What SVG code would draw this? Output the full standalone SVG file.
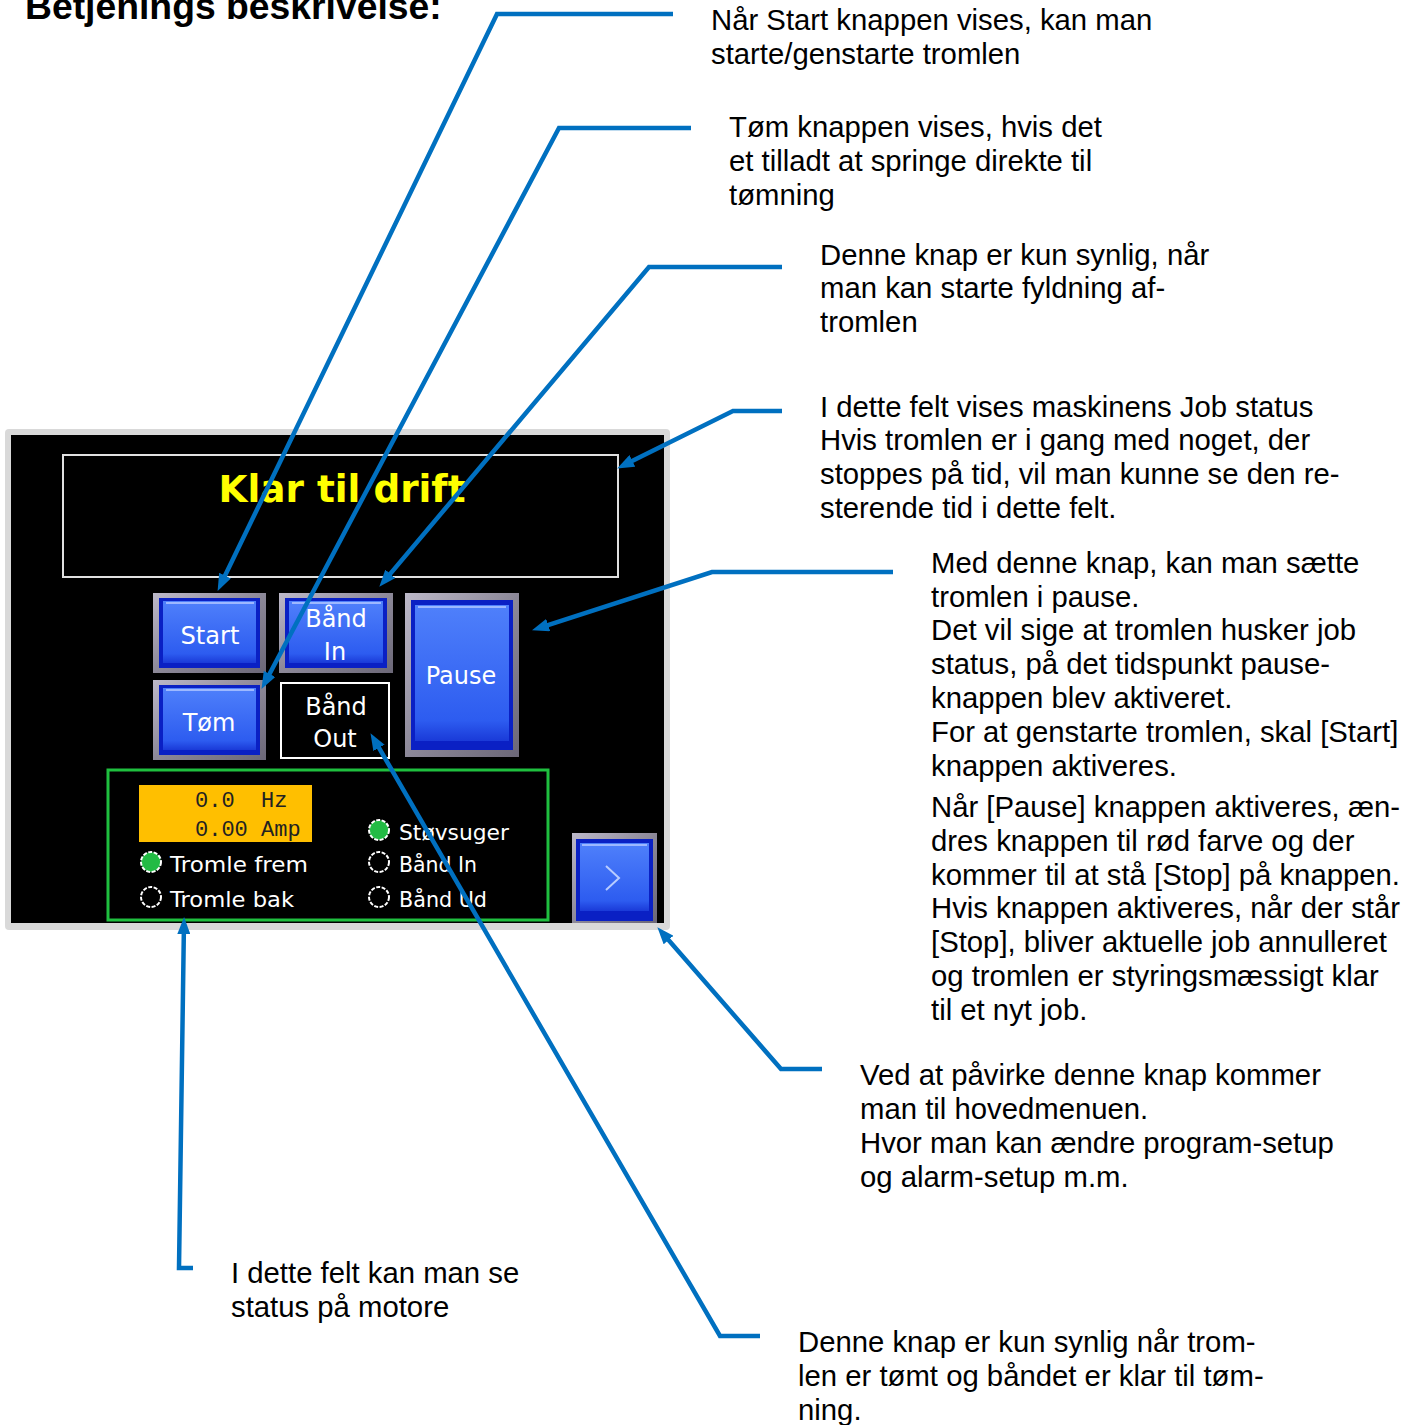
<svg xmlns="http://www.w3.org/2000/svg" width="1418" height="1425" viewBox="0 0 1418 1425">
<style>
.ann{font-family:"Liberation Sans",Arial,sans-serif;font-size:29.3px;fill:#000}
.title{font-family:"Liberation Sans",Arial,sans-serif;font-size:37.3px;font-weight:bold;fill:#000}
.lbl{font-family:"DejaVu Sans",sans-serif;fill:#fff}
.btnlbl{font-family:"DejaVu Sans",sans-serif;font-size:24px;fill:#fff}
.mono{font-family:"Liberation Mono","Courier New",monospace;font-size:22px;fill:#222}
.conn{stroke:#0070c0;stroke-width:4.5;fill:none;stroke-linejoin:miter;marker-end:url(#ah)}
.frame{fill:url(#frameG)}
.rim{fill:#0a20c4}
.face{fill:url(#faceG)}
.hl{stroke:#9db8ff;stroke-width:2}
.radio{stroke:#fff;stroke-width:2;stroke-dasharray:4 1.5}
</style>
<defs>
<marker id="ah" markerUnits="userSpaceOnUse" markerWidth="17" markerHeight="13" refX="6" refY="6.5" orient="auto">
<path d="M0,0 L17,6.5 L0,13 z" fill="#0070c0"/>
</marker>
<linearGradient id="frameG" x1="0" y1="0" x2="1" y2="1">
<stop offset="0" stop-color="#bdb9c9"/>
<stop offset="0.5" stop-color="#8c8898"/>
<stop offset="1" stop-color="#6c6878"/>
</linearGradient>
<linearGradient id="faceG" x1="0" y1="0" x2="0" y2="1">
<stop offset="0" stop-color="#4f80fb"/>
<stop offset="0.85" stop-color="#2d5cf0"/>
<stop offset="1" stop-color="#1a3ad8"/>
</linearGradient>
</defs>
<rect width="1418" height="1425" fill="#fff"/>
<text class="title" x="25" y="19">Betjenings beskrivelse:</text>

<g id="panel">
<rect x="5" y="429" width="665" height="501" rx="4" fill="#d9d9d9"/>
<rect x="11" y="435" width="653" height="488" fill="#000"/>
</g>

<g id="status-field">
<rect x="63" y="455" width="555" height="122" fill="none" stroke="#e0e0e0" stroke-width="2"/>
<text x="342" y="502" text-anchor="middle" font-family="DejaVu Sans, sans-serif" font-weight="bold" font-size="37" fill="#ffff00" textLength="247" lengthAdjust="spacingAndGlyphs">Klar til drift</text>
</g>

<g id="btn-start">
<rect class="frame" x="153" y="593" width="113" height="80"/>
<rect class="rim" x="159" y="598" width="101" height="70"/>
<rect class="face" x="163" y="601" width="93" height="62"/>
<line class="hl" x1="166" y1="603" x2="254" y2="603"/>
<text class="btnlbl" x="210" y="644" text-anchor="middle" textLength="59" lengthAdjust="spacingAndGlyphs">Start</text>
</g>

<g id="btn-band-in">
<rect class="frame" x="279" y="593" width="114" height="80"/>
<rect class="rim" x="285" y="598" width="102" height="70"/>
<rect class="face" x="289" y="601" width="94" height="62"/>
<line class="hl" x1="292" y1="603" x2="381" y2="603"/>
<text class="btnlbl" x="336" y="627" text-anchor="middle">Bånd</text>
<text class="btnlbl" x="335" y="660" text-anchor="middle">In</text>
</g>

<g id="btn-tom">
<rect class="frame" x="153" y="680" width="113" height="80"/>
<rect class="rim" x="159" y="685" width="101" height="70"/>
<rect class="face" x="163" y="688" width="93" height="62"/>
<line class="hl" x1="166" y1="690" x2="254" y2="690"/>
<text class="btnlbl" x="209" y="731" text-anchor="middle">Tøm</text>
</g>

<g id="btn-band-out">
<rect x="281" y="683" width="108" height="75" fill="#000" stroke="#fff" stroke-width="2"/>
<text class="btnlbl" x="336" y="715" text-anchor="middle">Bånd</text>
<text class="btnlbl" x="335" y="747" text-anchor="middle">Out</text>
</g>

<g id="btn-pause">
<rect class="frame" x="405" y="593" width="114" height="164"/>
<rect class="rim" x="411" y="600" width="102" height="150"/>
<rect class="face" x="415" y="605" width="94" height="136"/>
<line class="hl" x1="418" y1="607" x2="506" y2="607"/>
<text class="btnlbl" x="461" y="684" text-anchor="middle" font-size="22">Pause</text>
</g>

<g id="motor-status">
<rect x="108" y="770" width="440" height="150" fill="none" stroke="#1fbf3f" stroke-width="3"/>
<rect x="139" y="785" width="173" height="57" fill="#ffbf00"/>
<text class="mono" x="195" y="807" xml:space="preserve">0.0  Hz</text>
<text class="mono" x="195" y="836">0.00 Amp</text>
<circle class="radio" cx="151" cy="862" r="10" fill="#22bb44"/>
<circle class="radio" cx="151" cy="897" r="10" fill="#000"/>
<circle class="radio" cx="379" cy="830" r="10" fill="#22bb44"/>
<circle class="radio" cx="379" cy="862" r="10" fill="#000"/>
<circle class="radio" cx="379" cy="897" r="10" fill="#000"/>
<text class="lbl" x="170" y="872" font-size="22" textLength="138" lengthAdjust="spacingAndGlyphs">Tromle frem</text>
<text class="lbl" x="170" y="907" font-size="22" textLength="124" lengthAdjust="spacingAndGlyphs">Tromle bak</text>
<text class="lbl" x="399" y="840" font-size="22" textLength="110" lengthAdjust="spacingAndGlyphs">Støvsuger</text>
<text class="lbl" x="399" y="872" font-size="22" textLength="78" lengthAdjust="spacingAndGlyphs">Bånd In</text>
<text class="lbl" x="399" y="907" font-size="22" textLength="88" lengthAdjust="spacingAndGlyphs">Bånd Ud</text>
</g>

<g id="btn-menu">
<rect class="frame" x="572" y="833" width="85" height="90"/>
<rect class="rim" x="576" y="839" width="77" height="82"/>
<rect class="face" x="580" y="843" width="69" height="68"/>
<line class="hl" x1="582" y1="845" x2="647" y2="845"/>
<polyline points="606,866 619,878 606,890" fill="none" stroke="#b8ccff" stroke-width="2"/>
</g>

<g id="connectors">
<polyline class="conn" points="673,14 497,14 222.4,581"/>
<polyline class="conn" points="691,128 559,128 266.7,679.2"/>
<polyline class="conn" points="782,267 649,267 386.4,578.4"/>
<polyline class="conn" points="782,411 733,411 627,463.6"/>
<polyline class="conn" points="893,572 712,572 542.5,626.9"/>
<polyline class="conn" points="760,1336 720,1336 376,742.7"/>
<polyline class="conn" points="822,1069 781,1069 664.6,935.5"/>
<polyline class="conn" points="193,1268 179,1268 183.9,928"/>
</g>

<g id="note-start">
<text class="ann" x="711" y="30">Når Start knappen vises, kan man</text>
<text class="ann" x="711" y="64">starte/genstarte tromlen</text>
</g>
<g id="note-tom">
<text class="ann" x="729" y="137">Tøm knappen vises, hvis det</text>
<text class="ann" x="729" y="171">et tilladt at springe direkte til</text>
<text class="ann" x="729" y="205">tømning</text>
</g>
<g id="note-band-in">
<text class="ann" x="820" y="265">Denne knap er kun synlig, når</text>
<text class="ann" x="820" y="298">man kan starte fyldning af-</text>
<text class="ann" x="820" y="332">tromlen</text>
</g>
<g id="note-status">
<text class="ann" x="820" y="417">I dette felt vises maskinens Job status</text>
<text class="ann" x="820" y="450">Hvis tromlen er i gang med noget, der</text>
<text class="ann" x="820" y="484">stoppes på tid, vil man kunne se den re-</text>
<text class="ann" x="820" y="518">sterende tid i dette felt.</text>
</g>
<g id="note-pause">
<text class="ann" x="931" y="573">Med denne knap, kan man sætte</text>
<text class="ann" x="931" y="607">tromlen i pause.</text>
<text class="ann" x="931" y="640">Det vil sige at tromlen husker job</text>
<text class="ann" x="931" y="674">status, på det tidspunkt pause-</text>
<text class="ann" x="931" y="708">knappen blev aktiveret.</text>
<text class="ann" x="931" y="742">For at genstarte tromlen, skal [Start]</text>
<text class="ann" x="931" y="776">knappen aktiveres.</text>
<text class="ann" x="931" y="817">Når [Pause] knappen aktiveres, æn-</text>
<text class="ann" x="931" y="851">dres knappen til rød farve og der</text>
<text class="ann" x="931" y="885">kommer til at stå [Stop] på knappen.</text>
<text class="ann" x="931" y="918">Hvis knappen aktiveres, når der står</text>
<text class="ann" x="931" y="952">[Stop], bliver aktuelle job annulleret</text>
<text class="ann" x="931" y="986">og tromlen er styringsmæssigt klar</text>
<text class="ann" x="931" y="1020">til et nyt job.</text>
</g>
<g id="note-menu">
<text class="ann" x="860" y="1085">Ved at påvirke denne knap kommer</text>
<text class="ann" x="860" y="1119">man til hovedmenuen.</text>
<text class="ann" x="860" y="1153">Hvor man kan ændre program-setup</text>
<text class="ann" x="860" y="1187">og alarm-setup m.m.</text>
</g>
<g id="note-motor">
<text class="ann" x="231" y="1283">I dette felt kan man se</text>
<text class="ann" x="231" y="1317">status på motore</text>
</g>
<g id="note-band-out">
<text class="ann" x="798" y="1352">Denne knap er kun synlig når trom-</text>
<text class="ann" x="798" y="1386">len er tømt og båndet er klar til tøm-</text>
<text class="ann" x="798" y="1420">ning.</text>
</g>
</svg>
